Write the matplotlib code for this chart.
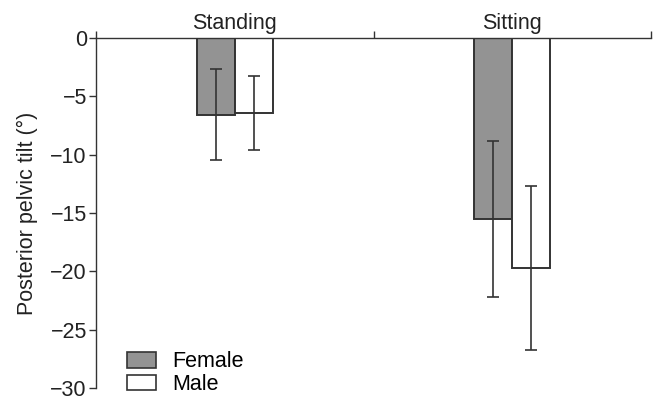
import numpy as np
import matplotlib.pyplot as plt
from matplotlib.patches import Patch

plt.rcParams['font.family'] = ['Liberation Sans', 'DejaVu Sans']

categories = ["Standing", "Sitting"]
female_mean = [-6.6, -15.5]
female_sd = [3.9, 6.7]
male_mean = [-6.45, -19.7]
male_sd = [3.2, 7.0]
yticks = [0, -5, -10, -15, -20, -25, -30]

fs = 15.5
fig = plt.figure(figsize=(6.57, 3.97), dpi=100)
ax = fig.add_axes([0.146, 0.022, 0.845, 0.883])

x = np.arange(len(categories))
w = 0.137
edge = "#333333"
ax.bar(x - w / 2, female_mean, w, color="#939393", edgecolor=edge, linewidth=1.4)
ax.bar(x + w / 2, male_mean, w, color="white", edgecolor=edge, linewidth=1.4)
ax.errorbar(x - w / 2, female_mean, yerr=female_sd, fmt="none", ecolor=edge,
            elinewidth=1.2, capsize=4.5, capthick=1.2)
ax.errorbar(x + w / 2, male_mean, yerr=male_sd, fmt="none", ecolor=edge,
            elinewidth=1.2, capsize=4.5, capthick=1.2)

ax.set_xlim(-0.5, 1.5)
ax.set_ylim(-30, 0)
ax.set_yticks(yticks)
ax.set_yticklabels([str(v).replace("-", "\u2212") for v in yticks], fontsize=fs,
                   color="#222222")
ax.tick_params(axis="y", length=5, width=1, color=edge, pad=1.5)

ax.spines["bottom"].set_visible(False)
ax.spines["right"].set_visible(False)
for s in ("top", "left"):
    ax.spines[s].set_color(edge)
    ax.spines[s].set_linewidth(1)

ax.xaxis.tick_top()
ax.set_xticks([-0.5, 0.5, 1.5])
ax.set_xticklabels([])
ax.tick_params(axis="x", length=5, width=1, color=edge)
for xi, c in zip(x, categories):
    ax.text(xi, 0.3, c, ha="center", va="bottom", fontsize=fs, color="#222222")

ax.set_ylabel("Posterior pelvic tilt (°)", fontsize=fs, color="#222222", labelpad=9)

handles = [Patch(facecolor="#939393", edgecolor=edge, linewidth=1.2, label="Female"),
           Patch(facecolor="white", edgecolor=edge, linewidth=1.2, label="Male")]
ax.legend(handles=handles, loc="lower left", bbox_to_anchor=(0.036, -0.05), frameon=False,
          fontsize=fs, handlelength=1.35, handleheight=0.75, handletextpad=0.75,
          labelspacing=0.08, borderpad=0)

fig.savefig("out.png", dpi=100)
